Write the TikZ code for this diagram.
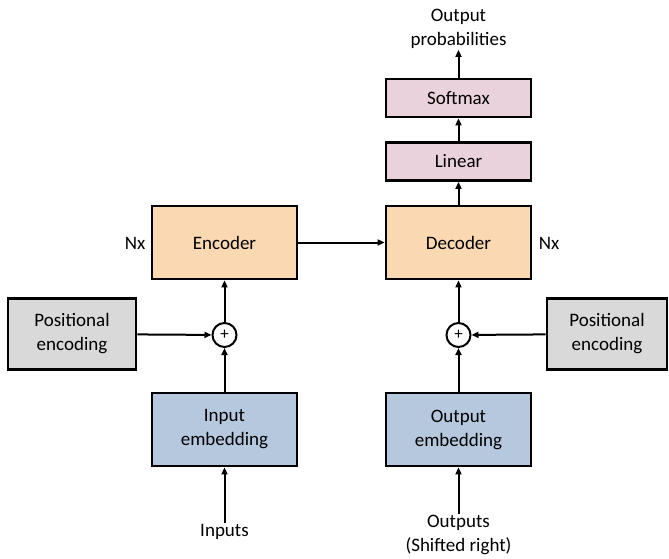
\documentclass[tikz,border=0pt]{standalone}
\usepackage{fontspec}
\setmainfont{Carlito}
\usetikzlibrary{arrows.meta,positioning,calc}
\definecolor{enccolor}{RGB}{250,216,178}
\definecolor{outcolor}{RGB}{234,210,220}
\definecolor{embcolor}{RGB}{182,200,222}
\definecolor{poscolor}{RGB}{217,217,217}

\begin{document}
\begin{tikzpicture}[
    x=1pt, y=-1pt,
    font=\fontsize{19}{24}\selectfont,
    % Main block style
    block/.style={rectangle, draw=black, line width=2.8pt, minimum width=145pt, minimum height=73pt, align=center, inner sep=2pt},
    % Small block for linear / softmax
    thin/.style={block, minimum height=38pt},
    % Adder circle
    adder/.style={circle, draw=black, line width=2pt, minimum size=24pt, inner sep=0pt, font=\fontsize{17}{17}\selectfont},
    % Plain label
    lbl/.style={align=center, inner sep=1pt},
    % Connector
    conn/.style={-{Triangle[length=7pt,width=6pt]}, line width=2pt}
]
    \useasboundingbox (0,0) rectangle (669,559);

    % --- ENCODER SIDE (Left) ---
    \node[block, fill=enccolor] (enc) at (224.5, 242.5) {Encoder};
    \node[lbl] (encN) at (135, 243) {Nx};
    \node[adder] (addL) at (224.5, 335) {+};
    \node[block, fill=poscolor, minimum width=128pt, minimum height=71pt] (posL) at (72, 334) {Positional\\encoding};
    \node[block, fill=embcolor] (embL) at (224.5, 429.5) {Input\\embedding};
    \node[lbl] (inp) at (224.5, 532) {Inputs};

    % --- DECODER SIDE (Right) ---
    \node[block, fill=enccolor] (dec) at (458.5, 242.5) {Decoder};
    \node[lbl] (decN) at (549, 243) {Nx};
    \node[adder] (addR) at (458.5, 335) {+};
    \node[block, fill=poscolor, minimum width=120pt, minimum height=71pt] (posR) at (607, 334) {Positional\\encoding};
    \node[block, fill=embcolor] (embR) at (458.5, 429.5) {Output\\embedding};
    \node[lbl] (outp) at (458.5, 535) {Outputs\\(Shifted right)};

    % --- OUTPUT HEAD ---
    \node[thin, fill=outcolor] (lin) at (458.5, 161.5) {Linear};
    \node[thin, fill=outcolor] (soft) at (458.5, 98) {Softmax};
    \node[lbl] (prob) at (458.5, 29) {Output\\probabilities};

    % --- CONNECTORS ---
    \draw[conn] (inp) -- (embL);
    \draw[conn] (embL) -- (addL);
    \draw[conn] (posL) -- (addL);
    \draw[conn] (addL) -- (enc);
    \draw[conn] (enc) -- (dec);

    \draw[conn] (outp) -- (embR);
    \draw[conn] (embR) -- (addR);
    \draw[conn] (posR) -- (addR);
    \draw[conn] (addR) -- (dec);
    \draw[conn] (dec) -- (lin);
    \draw[conn] (lin) -- (soft);
    \draw[conn] (soft) -- (prob);

\end{tikzpicture}
\end{document}
